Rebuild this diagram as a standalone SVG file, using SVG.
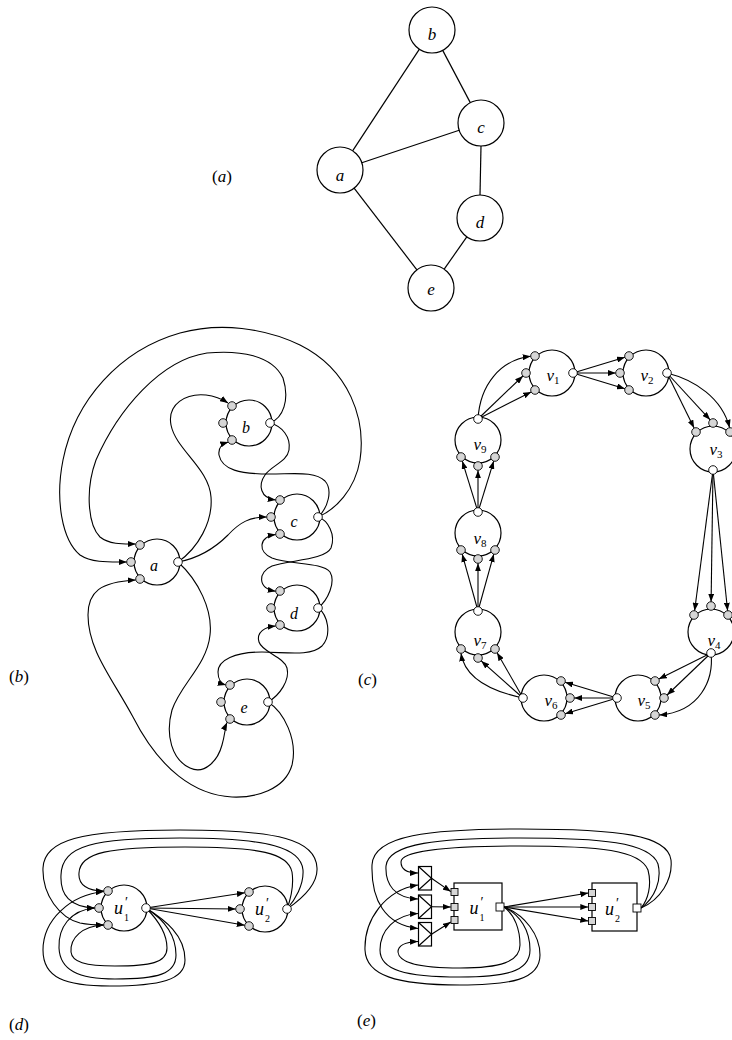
<svg xmlns="http://www.w3.org/2000/svg" width="732" height="1040" viewBox="0 0 732 1040">
<style>
.e{fill:none;stroke:#000;stroke-width:1.2}
.ea{fill:none;stroke:#000;stroke-width:1.1;marker-end:url(#ah)}
.n{fill:#fff;stroke:#000;stroke-width:1.2}
.pi{fill:#d6d6d6;stroke:#000;stroke-width:0.9}
.po{fill:#fff;stroke:#000;stroke-width:0.9}
.lb{font-family:"Liberation Serif",serif;font-style:italic;fill:#000;text-anchor:middle}
.sub{font-style:normal}
.cap{font-family:"Liberation Serif",serif;font-size:17px;fill:#000}
</style>
<defs>
<marker id="ah" viewBox="0 0 8 6" refX="8" refY="3" markerWidth="8" markerHeight="6" markerUnits="userSpaceOnUse" orient="auto"><path d="M0,0 L8,3 L0,6 z" fill="#000"/></marker>
</defs>
<rect width="732" height="1040" fill="#fff"/>

<g id="captions">
<text class="cap" x="212" y="182">(<tspan font-style="italic">a</tspan>)</text>
<text class="cap" x="9" y="682">(<tspan font-style="italic">b</tspan>)</text>
<text class="cap" x="358" y="685">(<tspan font-style="italic">c</tspan>)</text>
<text class="cap" x="9" y="1030">(<tspan font-style="italic">d</tspan>)</text>
<text class="cap" x="357" y="1026">(<tspan font-style="italic">e</tspan>)</text>
</g>

<g id="connectors">
<!-- (a) -->
<path class="e" d="M352.6,150.8 L419.4,49.2"/>
<path class="e" d="M442.7,50.4 L470.3,102.6"/>
<path class="e" d="M361.8,162.7 L459.2,130.3"/>
<path class="e" d="M481,146 L480,195"/>
<path class="e" d="M466.8,236.9 L444.2,269.1"/>
<path class="e" d="M354.1,188.2 L416.9,269.8"/>

<!-- (b) -->
<path class="ea" d="M178,562 C198,548 213,522 211,497 C209,468 176,450 171,425 C167,404 186,393 206,395 C215,396 222,399 228,403"/>
<path class="ea" d="M270,423 C283,418 290,400 283,378 C272,355 240,350 207,353 C160,360 118,410 96,460 C85,490 88,525 100,537 C110,545 125,544 135.7,544"/>
<path class="ea" d="M318,517 C335,510 355,490 360,460 C366,420 350,370 300,345 C265,328 220,322 180,333 C120,350 75,400 63,460 C55,500 62,540 80,555 C92,563 110,562 126.7,562"/>
<path class="ea" d="M178,562 C200,558 215,548 228,535 C240,522 250,517 266.7,517"/>
<path class="ea" d="M270,423 C282,426 291,437 289,450 C287,462 272,465 265,475 C258,485 260,498 275.7,500"/>
<path class="ea" d="M318,517 C328,508 333,490 325,481 C315,471 295,474 270,474 C240,474 222,470 219,455 C218,448 222,444 228.3,442"/>
<path class="ea" d="M318,517 C328,520 336,535 331,548 C325,560 290,560 272,566 C258,572 257,588 275.7,591.3"/>
<path class="ea" d="M318,608 C328,600 336,582 330,572 C322,562 290,565 272,558 C258,552 258,537 275.7,534.5"/>
<path class="ea" d="M318,608 C328,615 332,635 322,646 C310,657 285,652 262,652 C235,652 218,660 218,672 C218,680 222,684 225.7,685"/>
<path class="ea" d="M268,702 C280,695 290,680 287,668 C284,657 262,652 259,642 C256,632 265,627 275.7,626"/>
<path class="ea" d="M268,702 C284,712 298,740 292,765 C285,790 255,798 232,797 C195,795 160,770 133,717 C112,678 88,650 88,615 C88,592 100,582 135.7,580"/>
<path class="ea" d="M178,562 C198,580 213,610 210,635 C207,665 180,685 172,710 C165,735 172,760 190,768 C205,775 218,760 222,745 C225,735 225,727 227,722.5"/>

<!-- (c) -->
<path class="ea" d="M573,373 L624.9,357.3"/>
<path class="ea" d="M573,373 L615.7,373"/>
<path class="ea" d="M573,373 L624.9,388.7"/>
<path class="ea" d="M667,373 L694.1,428.1"/>
<path class="ea" d="M667,373 L710.1,419.8"/>
<path class="ea" d="M667,373 C695,380 722,398 729.6,427.7"/>
<path class="ea" d="M713,470 L694.6,610.7"/>
<path class="ea" d="M713,470 L711.1,601.7"/>
<path class="ea" d="M713,470 L727.6,610.7"/>
<path class="ea" d="M711,653 L658.8,679.1"/>
<path class="ea" d="M711,653 L667.1,695"/>
<path class="ea" d="M711,653 C714,680 700,712 659.3,715"/>
<path class="ea" d="M617,698 L565.1,682.3"/>
<path class="ea" d="M617,698 L574.3,698"/>
<path class="ea" d="M617,698 L565.1,713.7"/>
<path class="ea" d="M523,698 L497.1,652.7"/>
<path class="ea" d="M523,698 L481.2,660.9"/>
<path class="ea" d="M523,698 C495,692 465,680 461,653.3"/>
<path class="ea" d="M478,611 L462.2,554.1"/>
<path class="ea" d="M478,611 L478,563.3"/>
<path class="ea" d="M478,611 L493.8,554.1"/>
<path class="ea" d="M478,512 L462.3,461.1"/>
<path class="ea" d="M478,512 L478,470.3"/>
<path class="ea" d="M478,512 L493.7,461.1"/>
<path class="ea" d="M478,419 L531.2,391.9"/>
<path class="ea" d="M478,419 L522.9,376"/>
<path class="ea" d="M478,419 C480,385 500,360 530.7,356.3"/>

<!-- (d) -->
<path class="ea" d="M146,908 L244.8,892.7"/>
<path class="ea" d="M146,908 L235.7,909"/>
<path class="ea" d="M146,908 L244.8,925.3"/>
<path class="ea" d="M287,909 C300,900 318,885 317,868 C316,840 280,830 180,830 C80,830 44,840 43,868 C42,895 60,918 80,923 C90,925 97,925 103.7,925"/>
<path class="ea" d="M287,909 C295,900 304,885 303,870 C301,848 270,838 180,838 C95,838 62,845 61,875 C60,895 70,907 94.7,908"/>
<path class="ea" d="M287,909 C291,898 294,885 292,872 C288,853 260,847 185,847 C110,847 80,852 79,873 C78,885 88,891 103.7,891"/>
<path class="ea" d="M146,908 C165,920 185,935 185,960 C185,980 160,986 110,986 C65,986 43,978 43,950 C43,920 70,895 103.8,891.5"/>
<path class="ea" d="M146,908 C160,917 176,932 176,955 C176,974 158,979 115,979 C78,979 60,970 59,948 C58,928 70,910 94.7,908"/>
<path class="ea" d="M146,908 C156,918 167,933 167,948 C167,963 150,966 115,966 C85,966 72,962 71,952 C70,938 82,926 103.7,925"/>

<!-- (e) -->
<path class="ea" d="M431.5,878.3 L450.8,891.6"/>
<path class="ea" d="M431.5,906.8 L450.8,907"/>
<path class="ea" d="M431.5,934.3 L450.8,922"/>
<path class="ea" d="M504,907 L588.3,893"/>
<path class="ea" d="M504,907 L588.3,907"/>
<path class="ea" d="M504,907 L588.3,921"/>
<path class="ea" d="M641,908 C648,900 652,885 648,870 C640,850 600,846 520,846 C440,846 401,852 401,862 C401,870 408,873 418,873"/>
<path class="ea" d="M641,908 C655,898 662,880 658,864 C650,842 600,838 520,838 C440,838 388,843 386,866 C385,885 395,898 418,899"/>
<path class="ea" d="M641,908 C660,900 673,880 671,860 C668,835 620,829 520,829 C430,829 373,835 372,865 C371,900 385,925 418,928.5"/>
<path class="ea" d="M504,907 C515,915 520,930 520,945 C520,962 500,968 460,968 C415,968 399,962 398,952 C398,946 405,942 418,941.5"/>
<path class="ea" d="M504,907 C520,915 530,930 530,950 C530,972 505,977 460,977 C405,977 380,970 380,950 C380,930 395,915 418,913.5"/>
<path class="ea" d="M504,907 C525,915 540,935 540,955 C540,980 510,985 460,985 C395,985 366,975 365,950 C364,920 385,890 418,885"/>
</g>

<!-- (a) nodes -->
<g id="a-a"><circle class="n" cx="340" cy="170" r="23"/><text class="lb" x="340" y="181" font-size="17">a</text></g>
<g id="a-b"><circle class="n" cx="432" cy="30" r="23"/><text class="lb" x="432" y="40" font-size="17">b</text></g>
<g id="a-c"><circle class="n" cx="481" cy="123" r="23"/><text class="lb" x="481" y="133" font-size="17">c</text></g>
<g id="a-d"><circle class="n" cx="480" cy="218" r="23"/><text class="lb" x="480" y="228" font-size="17">d</text></g>
<g id="a-e"><circle class="n" cx="431" cy="288" r="23"/><text class="lb" x="431" y="295" font-size="17">e</text></g>

<!-- (b) nodes -->
<g id="b-a"><circle class="n" cx="157" cy="562" r="23"/><circle class="pi" cx="140" cy="545" r="4.3"/><circle class="pi" cx="131" cy="562" r="4.3"/><circle class="pi" cx="140" cy="579" r="4.3"/><circle class="po" cx="178" cy="562" r="4.3"/><text class="lb" x="154" y="571" font-size="16">a</text></g>
<g id="b-b"><circle class="n" cx="249" cy="423" r="23"/><circle class="pi" cx="232" cy="406" r="4.3"/><circle class="pi" cx="223" cy="423" r="4.3"/><circle class="pi" cx="232" cy="440" r="4.3"/><circle class="po" cx="270" cy="423" r="4.3"/><text class="lb" x="246" y="433" font-size="16">b</text></g>
<g id="b-c"><circle class="n" cx="297" cy="517" r="23"/><circle class="pi" cx="280" cy="500" r="4.3"/><circle class="pi" cx="271" cy="517" r="4.3"/><circle class="pi" cx="280" cy="534" r="4.3"/><circle class="po" cx="318" cy="517" r="4.3"/><text class="lb" x="294" y="527" font-size="16">c</text></g>
<g id="b-d"><circle class="n" cx="297" cy="608" r="23"/><circle class="pi" cx="280" cy="591" r="4.3"/><circle class="pi" cx="271" cy="608" r="4.3"/><circle class="pi" cx="280" cy="625" r="4.3"/><circle class="po" cx="318" cy="608" r="4.3"/><text class="lb" x="294" y="619" font-size="16">d</text></g>
<g id="b-e"><circle class="n" cx="247" cy="702" r="23"/><circle class="pi" cx="230" cy="685" r="4.3"/><circle class="pi" cx="221" cy="702" r="4.3"/><circle class="pi" cx="230" cy="719" r="4.3"/><circle class="po" cx="268" cy="702" r="4.3"/><text class="lb" x="244" y="713" font-size="16">e</text></g>

<!-- (c) nodes -->
<g id="v1"><circle class="n" cx="552" cy="373" r="23"/><circle class="pi" cx="535" cy="356" r="4.3"/><circle class="pi" cx="526" cy="373" r="4.3"/><circle class="pi" cx="535" cy="390" r="4.3"/><circle class="po" cx="573" cy="373" r="4.3"/><text class="lb" x="553" y="381" font-size="17">v<tspan class="sub" font-size="11" dy="3">1</tspan></text></g>
<g id="v2"><circle class="n" cx="646" cy="373" r="23"/><circle class="pi" cx="629" cy="356" r="4.3"/><circle class="pi" cx="620" cy="373" r="4.3"/><circle class="pi" cx="629" cy="390" r="4.3"/><circle class="po" cx="667" cy="373" r="4.3"/><text class="lb" x="647" y="381" font-size="17">v<tspan class="sub" font-size="11" dy="3">2</tspan></text></g>
<g id="v3"><circle class="n" cx="713" cy="449" r="23"/><circle class="pi" cx="696" cy="432" r="4.3"/><circle class="pi" cx="713" cy="423" r="4.3"/><circle class="pi" cx="730" cy="432" r="4.3"/><circle class="po" cx="713" cy="470" r="4.3"/><text class="lb" x="716" y="455" font-size="17">v<tspan class="sub" font-size="11" dy="3">3</tspan></text></g>
<g id="v4"><circle class="n" cx="711" cy="632" r="23"/><circle class="pi" cx="694" cy="615" r="4.3"/><circle class="pi" cx="711" cy="606" r="4.3"/><circle class="pi" cx="728" cy="615" r="4.3"/><circle class="po" cx="711" cy="653" r="4.3"/><text class="lb" x="714" y="646" font-size="17">v<tspan class="sub" font-size="11" dy="3">4</tspan></text></g>
<g id="v5"><circle class="n" cx="638" cy="698" r="23"/><circle class="pi" cx="655" cy="681" r="4.3"/><circle class="pi" cx="664" cy="698" r="4.3"/><circle class="pi" cx="655" cy="715" r="4.3"/><circle class="po" cx="617" cy="698" r="4.3"/><text class="lb" x="644" y="706" font-size="17">v<tspan class="sub" font-size="11" dy="3">5</tspan></text></g>
<g id="v6"><circle class="n" cx="544" cy="698" r="23"/><circle class="pi" cx="561" cy="681" r="4.3"/><circle class="pi" cx="570" cy="698" r="4.3"/><circle class="pi" cx="561" cy="715" r="4.3"/><circle class="po" cx="523" cy="698" r="4.3"/><text class="lb" x="551" y="706" font-size="17">v<tspan class="sub" font-size="11" dy="3">6</tspan></text></g>
<g id="v7"><circle class="n" cx="478" cy="632" r="23"/><circle class="pi" cx="461" cy="649" r="4.3"/><circle class="pi" cx="478" cy="658" r="4.3"/><circle class="pi" cx="495" cy="649" r="4.3"/><circle class="po" cx="478" cy="611" r="4.3"/><text class="lb" x="480" y="646" font-size="17">v<tspan class="sub" font-size="11" dy="3">7</tspan></text></g>
<g id="v8"><circle class="n" cx="478" cy="533" r="23"/><circle class="pi" cx="461" cy="550" r="4.3"/><circle class="pi" cx="478" cy="559" r="4.3"/><circle class="pi" cx="495" cy="550" r="4.3"/><circle class="po" cx="478" cy="512" r="4.3"/><text class="lb" x="480" y="544" font-size="17">v<tspan class="sub" font-size="11" dy="3">8</tspan></text></g>
<g id="v9"><circle class="n" cx="478" cy="440" r="23"/><circle class="pi" cx="461" cy="457" r="4.3"/><circle class="pi" cx="478" cy="466" r="4.3"/><circle class="pi" cx="495" cy="457" r="4.3"/><circle class="po" cx="478" cy="419" r="4.3"/><text class="lb" x="480" y="450" font-size="17">v<tspan class="sub" font-size="11" dy="3">9</tspan></text></g>

<!-- (d) nodes -->
<g id="d-u1"><circle class="n" cx="124" cy="908" r="23"/><circle class="pi" cx="108" cy="891" r="4.3"/><circle class="pi" cx="99" cy="908" r="4.3"/><circle class="pi" cx="108" cy="925" r="4.3"/><circle class="po" cx="146" cy="908" r="4.3"/><text class="lb" x="118.5" y="914" font-size="18">u</text><text class="lb sub" x="126.5" y="907" font-size="14">′</text><text class="lb sub" x="126.5" y="921" font-size="10">1</text></g>
<g id="d-u2"><circle class="n" cx="265" cy="909" r="23"/><circle class="pi" cx="249" cy="892" r="4.3"/><circle class="pi" cx="240" cy="909" r="4.3"/><circle class="pi" cx="249" cy="926" r="4.3"/><circle class="po" cx="287" cy="909" r="4.3"/><text class="lb" x="259.5" y="915" font-size="18">u</text><text class="lb sub" x="267.5" y="908" font-size="14">′</text><text class="lb sub" x="267.5" y="922" font-size="10">2</text></g>

<!-- (e) nodes -->
<g id="e-m1"><rect class="n" x="418.5" y="866.5" width="13" height="23.5"/><path class="e" d="M418.5,866.5 L431.5,878.3 L418.5,890"/></g>
<g id="e-m2"><rect class="n" x="418.5" y="895" width="13" height="23.5"/><path class="e" d="M418.5,895 L431.5,906.8 L418.5,918.5"/></g>
<g id="e-m3"><rect class="n" x="418.5" y="922.5" width="13" height="23.5"/><path class="e" d="M418.5,922.5 L431.5,934.3 L418.5,946"/></g>
<g id="e-u1"><rect class="n" x="454" y="883" width="48" height="47"/><rect class="pi" x="451" y="888.5" width="7" height="7"/><rect class="pi" x="451" y="903.5" width="7" height="7"/><rect class="pi" x="451" y="916.5" width="7" height="7"/><rect class="po" x="496" y="903" width="8" height="8"/><text class="lb" x="474" y="914" font-size="18">u</text><text class="lb sub" x="482" y="907" font-size="14">′</text><text class="lb sub" x="482" y="921" font-size="10">1</text></g>
<g id="e-u2"><rect class="n" x="592" y="883" width="45" height="48"/><rect class="pi" x="588.5" y="889.5" width="7" height="7"/><rect class="pi" x="588.5" y="903.5" width="7" height="7"/><rect class="pi" x="588.5" y="917.5" width="7" height="7"/><rect class="po" x="633" y="904" width="8" height="8"/><text class="lb" x="609.5" y="915" font-size="18">u</text><text class="lb sub" x="617.5" y="908" font-size="14">′</text><text class="lb sub" x="617.5" y="922" font-size="10">2</text></g>
</svg>
